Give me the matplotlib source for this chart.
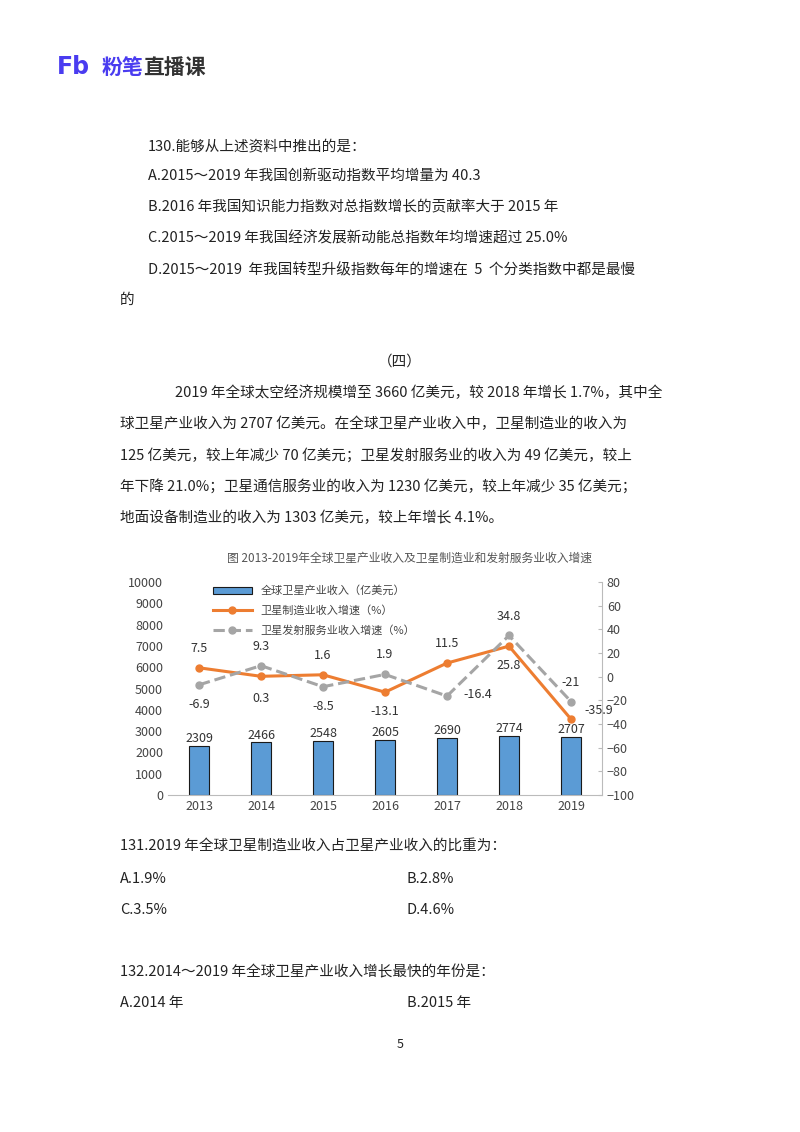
import matplotlib
matplotlib.use("Agg")
import matplotlib.pyplot as plt

plt.rcParams['font.family'] = ['Noto Sans CJK SC', 'DejaVu Sans']

years = ['2013', '2014', '2015', '2016', '2017', '2018', '2019']
revenue = [2309, 2466, 2548, 2605, 2690, 2774, 2707]
manuf_growth = [7.5, 0.3, 1.6, -13.1, 11.5, 25.8, -35.9]
launch_growth = [-6.9, 9.3, -8.5, 1.9, -16.4, 34.8, -21]

fig = plt.figure(figsize=(8, 11.32), dpi=100)
W, H = 800, 1132
def T(x, y, s, **kw):
    kw.setdefault('fontsize', 10.5)
    kw.setdefault('color', '#222222')
    fig.text(x / W, 1 - y / H, s, va='center', **kw)

# logo
T(57, 67, 'Fb', fontsize=17, fontweight='bold', color='#4a3cf0', family=['DejaVu Sans'])
T(102, 67, '粉笔', fontsize=15, fontweight='bold', color='#4a3cf0')
T(143, 67, '直播课', fontsize=15, fontweight='bold', color='#333333')

lines = [
    (148, 146, '130.能够从上述资料中推出的是：'),
    (148, 176, 'A.2015～2019 年我国创新驱动指数平均增量为 40.3'),
    (148, 207, 'B.2016 年我国知识能力指数对总指数增长的贡献率大于 2015 年'),
    (148, 238, 'C.2015～2019 年我国经济发展新动能总指数年均增速超过 25.0%'),
    (148, 270, 'D.2015～2019  年我国转型升级指数每年的增速在  5  个分类指数中都是最慢'),
    (120, 300, '的'),
    (175, 393, '2019 年全球太空经济规模增至 3660 亿美元，较 2018 年增长 1.7%，其中全'),
    (120, 424, '球卫星产业收入为 2707 亿美元。在全球卫星产业收入中，卫星制造业的收入为'),
    (120, 455, '125 亿美元，较上年减少 70 亿美元；卫星发射服务业的收入为 49 亿美元，较上'),
    (120, 486, '年下降 21.0%；卫星通信服务业的收入为 1230 亿美元，较上年减少 35 亿美元；'),
    (120, 518, '地面设备制造业的收入为 1303 亿美元，较上年增长 4.1%。'),
    (120, 846, '131.2019 年全球卫星制造业收入占卫星产业收入的比重为：'),
    (120, 879, 'A.1.9%'), (407, 879, 'B.2.8%'),
    (120, 910, 'C.3.5%'), (407, 910, 'D.4.6%'),
    (120, 972, '132.2014～2019 年全球卫星产业收入增长最快的年份是：'),
    (120, 1003, 'A.2014 年'), (407, 1003, 'B.2015 年'),
]
for x, y, s in lines:
    T(x, y, s)
T(400, 362, '（四）', ha='center')
T(400, 1045, '5', ha='center', fontsize=9)
T(410, 558, '图 2013-2019年全球卫星产业收入及卫星制造业和发射服务业收入增速', ha='center', fontsize=8.5, color='#555555')

ax = fig.add_axes([168 / W, 1 - 795 / H, 434 / W, 213 / H])
x = range(len(years))
ax.bar(x, revenue, width=0.32, color='#5b9bd5', edgecolor='#1a1a1a', linewidth=0.8, label='全球卫星产业收入（亿美元）')
for i, v in enumerate(revenue):
    ax.text(i, v + 40, str(v), ha='center', va='bottom', fontsize=9, color='#333333')
ax.set_ylim(0, 10000)
ax.set_yticks(range(0, 10001, 1000))
ax.set_xlim(-0.5, 6.5)
ax.set_xticks(list(x))
ax.set_xticklabels(years)
for s in ['top', 'right', 'left']:
    ax.spines[s].set_visible(False)
ax.spines['bottom'].set_color('#bbbbbb')
ax.tick_params(length=0, labelsize=9, colors='#444444')

ax2 = ax.twinx()
l1, = ax2.plot(x, manuf_growth, color='#ed7d31', lw=2.2, marker='o', ms=5, label='卫星制造业收入增速（%）')
l2, = ax2.plot(x, launch_growth, color='#a5a5a5', lw=2.2, ls='--', marker='o', ms=5, label='卫星发射服务业收入增速（%）')
ax2.set_ylim(-100, 80)
ax2.set_yticks(range(-100, 81, 20))
for s in ['top', 'left', 'bottom']:
    ax2.spines[s].set_visible(False)
ax2.spines['right'].set_color('#bbbbbb')
ax2.tick_params(axis='y', direction='in', length=3, color='#bbbbbb', labelsize=9, colors='#444444')

m_off = [(0, 14), (0, -16), (0, 14), (0, -14), (0, 14), (0, -14), (20, 6)]
l_off = [(0, -14), (0, 14), (0, -14), (0, 14), (22, 1), (0, 14), (0, 14)]
for i in x:
    ax2.annotate(str(manuf_growth[i]), (i, manuf_growth[i]), xytext=m_off[i], textcoords='offset points',
                 ha='center', va='center', fontsize=9, color='#333333')
    ax2.annotate(str(launch_growth[i]), (i, launch_growth[i]), xytext=l_off[i], textcoords='offset points',
                 ha='center', va='center', fontsize=9, color='#333333')

h1, lab1 = ax.get_legend_handles_labels()
ax.legend(h1 + [l1, l2], lab1 + [l1.get_label(), l2.get_label()], loc='upper left',
          bbox_to_anchor=(0.08, 1.03), frameon=False, fontsize=8, handlelength=3.5, labelspacing=0.8,
          labelcolor='#444444')

fig.savefig('out.png', dpi=100, facecolor='white')
